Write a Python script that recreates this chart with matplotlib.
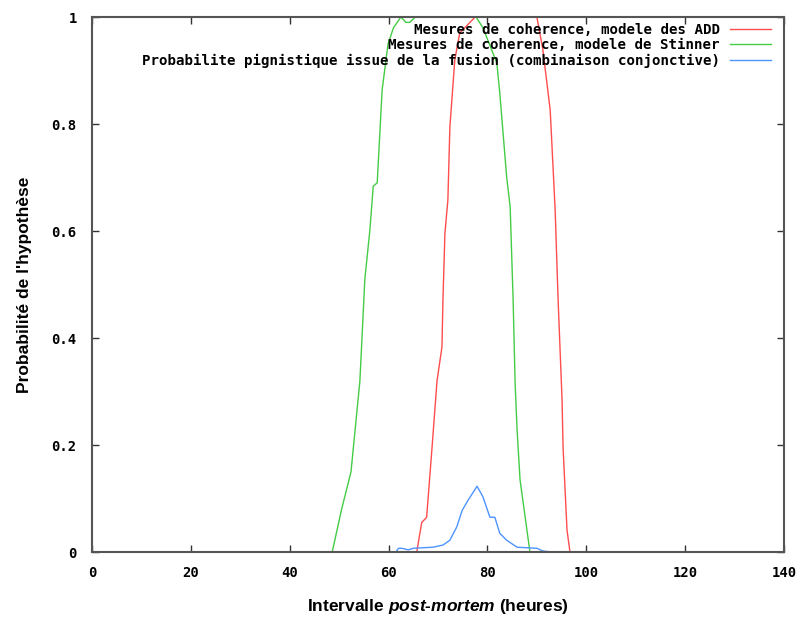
import numpy as np
import matplotlib
matplotlib.use('Agg')
import matplotlib.pyplot as plt

# valeurs
add_x = [65.7, 66.7, 67.7, 68.8, 69.8, 70.8, 71.0, 71.4, 72.0, 72.4, 73.4, 74.4, 77.5,
         90.0, 91.2, 92.7, 93.7, 94.3, 95.1, 95.3, 96.1, 96.7]
add_y = [0, 0.055, 0.065, 0.196, 0.32, 0.383, 0.471, 0.596, 0.658, 0.794, 0.92, 0.97, 1.0,
         1.0, 0.94, 0.826, 0.64, 0.471, 0.284, 0.196, 0.041, 0]

stin_x = [48.6, 50.5, 52.4, 54.2, 55.2, 56.2, 56.9, 57.7, 58.7, 59.9, 61.0, 62.5, 63.5,
          64.3, 65.4, 77.7, 79.1, 81.9, 82.5, 83.9, 84.6, 85.2, 85.6, 86.0, 86.6, 88.6]
stin_y = [0, 0.08, 0.15, 0.32, 0.51, 0.6, 0.684, 0.69, 0.864, 0.95, 0.98, 1.0, 0.99,
          0.99, 1.0, 1.0, 0.98, 0.914, 0.858, 0.70, 0.645, 0.471, 0.316, 0.228, 0.135, 0]

fus_x = [58.3, 61.5, 62.0, 62.7, 64.0, 65.0, 69.0, 71.0, 72.4, 73.8, 74.9, 76.1, 77.9,
         79.1, 80.5, 81.5, 82.5, 83.9, 86.0, 90.0, 91.2, 93.0]
fus_y = [0, 0, 0.007, 0.007, 0.004, 0.007, 0.009, 0.013, 0.022, 0.047, 0.078, 0.097, 0.123,
         0.103, 0.065, 0.065, 0.035, 0.022, 0.009, 0.007, 0.002, 0]

labels = ['Mesures de coherence, modele des ADD',
          'Mesures de coherence, modele de Stinner',
          'Probabilite pignistique issue de la fusion (combinaison conjonctive)']

xticks = [0, 20, 40, 60, 80, 100, 120, 140]
yticks = [0, 0.2, 0.4, 0.6, 0.8, 1]
ytlabels = ['0', '0.2', '0.4', '0.6', '0.8', '1']

plt.rcParams['mathtext.fontset'] = 'custom'
plt.rcParams['mathtext.it'] = 'Liberation Sans:italic:bold'

fig = plt.figure(figsize=(8, 6.17), dpi=100)
ax = fig.add_axes([0.115, 0.1053, 0.865, 0.8671])

ax.plot(add_x, add_y, color='#ff4d4d', lw=1.0, label=labels[0])
ax.plot(stin_x, stin_y, color='#44cc44', lw=1.0, label=labels[1])
ax.plot(fus_x, fus_y, color='#4d94ff', lw=1.0, label=labels[2])

ax.set_xlim(0, 140)
ax.set_ylim(0, 1)
ax.set_xticks(xticks)
ax.set_yticks(yticks)
ax.set_yticklabels(ytlabels)
ax.tick_params(direction='in', length=5, width=1, top=True, right=True,
               color='#333333')
ax.tick_params(axis='x', pad=10)
ax.tick_params(axis='y', pad=11)
for lab in ax.get_xticklabels() + ax.get_yticklabels():
    lab.set_fontfamily('DejaVu Sans Mono')
    lab.set_fontweight('bold')
    lab.set_fontsize(10)
for s in ax.spines.values():
    s.set_color('#555555')
    s.set_linewidth(1.5)

ax.set_xlabel('Intervalle $post$-$mortem$ (heures)', fontsize=12.5,
              fontfamily='Liberation Sans', fontweight='bold', labelpad=12)
ax.set_ylabel("Probabilité de l'hypothèse", fontsize=12.5,
              fontfamily='Liberation Sans', fontweight='bold', labelpad=14)

leg = ax.legend(loc='upper right', bbox_to_anchor=(0.99, 1.0), frameon=False,
                markerfirst=False,
                prop={'family': 'DejaVu Sans Mono', 'weight': 'bold', 'size': 10.2},
                handlelength=2.9, handletextpad=0.75, labelspacing=0.1,
                borderaxespad=0.25, borderpad=0.15)
for t in leg.get_texts():
    t.set_ha('right')

fig.savefig('out.png', dpi=100)
